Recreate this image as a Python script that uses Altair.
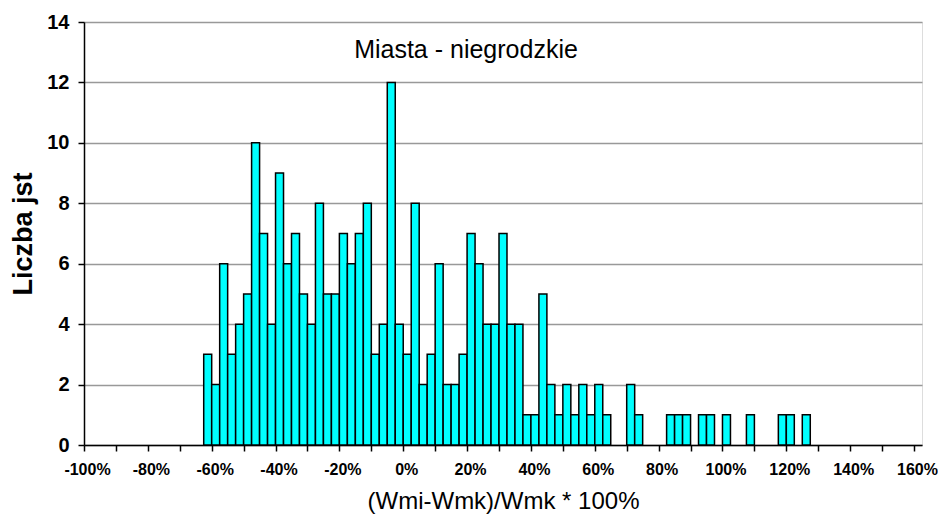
import altair as alt
import pandas as pd

# Histogram bins: left edge (%) and counts, bin width 2.5%
bin_start = [-62.5, -60, -57.5, -55, -52.5, -50, -47.5, -45, -42.5, -40,
             -37.5, -35, -32.5, -30, -27.5, -25, -22.5, -20, -17.5, -15,
             -12.5, -10, -7.5, -5, -2.5, 0, 2.5, 5, 7.5, 10,
             12.5, 15, 17.5, 20, 22.5, 25, 27.5, 30, 32.5, 35,
             37.5, 40, 42.5, 45, 47.5, 50, 52.5, 55, 57.5, 60,
             62.5, 70, 72.5, 82.5, 85, 87.5, 92.5, 95, 100, 107.5,
             117.5, 120, 125]
counts = [3, 2, 6, 3, 4, 5, 10, 7, 4, 9,
          6, 7, 5, 4, 8, 5, 5, 7, 6, 7,
          8, 3, 4, 12, 4, 3, 8, 2, 3, 6,
          2, 2, 3, 7, 6, 4, 4, 7, 4, 4,
          1, 1, 5, 2, 1, 2, 1, 2, 1, 2,
          1, 2, 1, 1, 1, 1, 1, 1, 1, 1,
          1, 1, 1]
BIN_W = 2.5

x_ticks = list(range(-100, 170, 10))
y_ticks = [0, 2, 4, 6, 8, 10, 12, 14]
chart_label = "Miasta - niegrodzkie"

df = pd.DataFrame({"start": bin_start, "count": counts})
df["end"] = df["start"] + BIN_W

FONT = "Liberation Sans"

bars = alt.Chart(df).mark_bar(
    fill="#00FFFF", stroke="#000000", strokeWidth=1.5
).encode(
    x=alt.X("start:Q",
            scale=alt.Scale(domain=[-100, 162.5], nice=False, zero=False),
            axis=alt.Axis(values=x_ticks, grid=False,
                          labelExpr="datum.value % 20 == 0 ? datum.value + '%' : ''",
                          labelOffset=3, labelFlush=False, labelOverlap=False,
                          labelFont=FONT, labelFontSize=16, labelFontWeight="bold",
                          labelColor="#000000", labelPadding=10,
                          tickSize=6, tickColor="#000000", tickWidth=1.5,
                          domainColor="#000000", domainWidth=1.5,
                          title="(Wmi-Wmk)/Wmk * 100%", titleFont=FONT,
                          titleFontSize=24, titleFontWeight="normal",
                          titleColor="#000000", titlePadding=12)),
    x2="end:Q",
    y=alt.Y("count:Q",
            scale=alt.Scale(domain=[0, 14], nice=False),
            axis=alt.Axis(values=y_ticks, grid=True, gridColor="#999999",
                          gridWidth=1.5,
                          labelFont=FONT, labelFontSize=20, labelFontWeight="bold",
                          labelColor="#000000", labelPadding=9,
                          tickSize=6, tickColor="#000000", tickWidth=1.5,
                          domainColor="#000000", domainWidth=1.5,
                          title="Liczba jst", titleFont=FONT, titleFontSize=27,
                          titleFontWeight="bold", titleColor="#000000",
                          titlePadding=9)),
    y2=alt.datum(0),
)

label = alt.Chart(pd.DataFrame({"t": [chart_label]})).mark_text(
    font=FONT, fontSize=25, fontWeight="normal", color="#000000",
    align="center", baseline="middle"
).encode(
    text="t:N",
    x=alt.value(382),
    y=alt.value(28),
)

chart = alt.layer(bars, label).properties(
    width=838,
    height=423,
    autosize="none",
    padding={"left": 76, "top": 14, "right": 16, "bottom": 70},
).configure_view(
    stroke=None
).configure(
    background="#ffffff"
)

chart.save("out.html", embed_options={"renderer": "svg", "actions": False})
